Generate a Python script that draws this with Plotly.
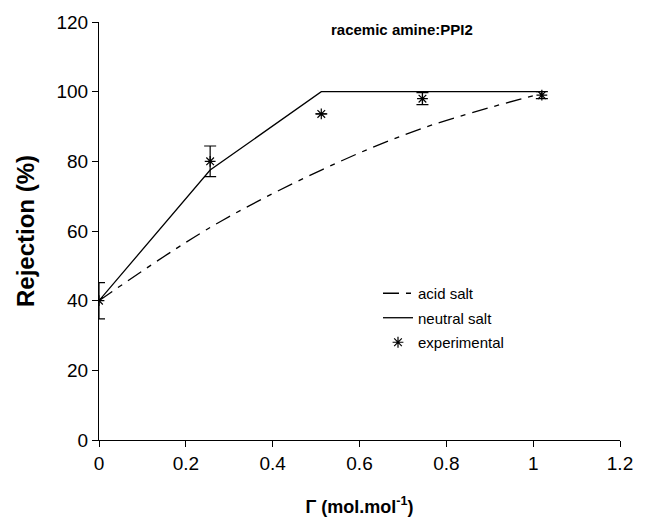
import plotly.graph_objects as go

# Data
gamma = [0, 0.256, 0.512, 0.745, 1.02]
acid_salt = [40.0, 61.0, 77.5, 89.5, 99.5]
neutral_salt = [40.0, 77.5, 100.0, 100.0, 100.0]
experimental = [40.0, 80.0, 93.6, 98.0, 99.0]
exp_error = [5.2, 4.4, 0.0, 1.7, 1.0]

x_ticks = [0, 0.2, 0.4, 0.6, 0.8, 1.0, 1.2]
x_tick_labels = ["0", "0.2", "0.4", "0.6", "0.8", "1", "1.2"]
y_ticks = [0, 20, 40, 60, 80, 100, 120]

font_family = "Liberation Sans, Arial, sans-serif"

fig = go.Figure()
fig.add_trace(go.Scatter(
    x=gamma, y=acid_salt, mode="lines", name="acid salt", legendgroup="a",
    line=dict(color="black", width=1.3, dash="16px,7px,5px,7px", shape="spline"),
))
fig.add_trace(go.Scatter(
    x=gamma, y=neutral_salt, mode="lines", name="neutral salt", legendgroup="n",
    line=dict(color="black", width=1.3),
))
fig.add_trace(go.Scatter(
    x=gamma, y=experimental, mode="markers", name="experimental", legendgroup="e",
    marker=dict(symbol="asterisk-open", size=9, color="black",
                line=dict(color="black", width=1.2)),
    error_y=dict(type="data", array=exp_error, visible=True,
                 color="black", thickness=1.2, width=6),
))

# page body has an 8px margin: figure sized/offset to compensate
fig.update_layout(
    width=633, height=509,
    margin=dict(l=91, r=21, t=14, b=77, autoexpand=False),
    paper_bgcolor="white", plot_bgcolor="white",
    font=dict(family=font_family, size=19, color="black"),
    showlegend=True,
    legend=dict(x=0.5355, y=0.39, xanchor="left", yanchor="top",
                bgcolor="rgba(0,0,0,0)", font=dict(size=15),
                tracegroupgap=2),
    annotations=[dict(text="<b>racemic amine:PPI2</b>", x=0.5816, y=0.981,
                      xref="paper", yref="paper", xanchor="center", yanchor="middle",
                      showarrow=False, font=dict(size=15))],
)
fig.update_xaxes(
    range=[0, 1.2], tickvals=x_ticks, ticktext=x_tick_labels,
    showline=True, linecolor="black", linewidth=1,
    ticks="outside", ticklen=6, tickcolor="black",
    showgrid=False, zeroline=False, automargin=False,
    ticklabeloverflow="allow",
    title=dict(text="<b>Γ (mol.mol<sup>-1</sup>)</b>", font=dict(size=18), standoff=32),
)
fig.update_yaxes(
    range=[0, 120], tickvals=y_ticks,
    showline=True, linecolor="black", linewidth=1,
    ticks="outside", ticklen=6, tickcolor="black",
    showgrid=False, zeroline=False, automargin=False,
    ticklabeloverflow="allow",
    title=dict(text="<b>Rejection (%)</b>", font=dict(size=24)),
)

fig.write_html("out.html")
